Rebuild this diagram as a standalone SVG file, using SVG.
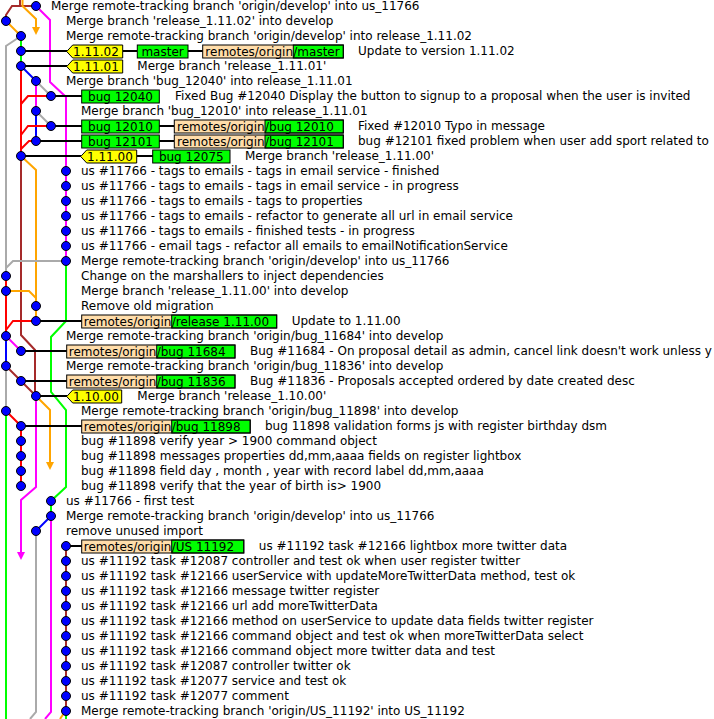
<svg xmlns="http://www.w3.org/2000/svg" width="714" height="719" viewBox="0 0 714 719">
<style>
.e{fill:none;stroke-width:2}
.br{stroke:#a52a2a}.or{stroke:#ffa500}.gy{stroke:#aaaaaa}.mg{stroke:#ff00ff}
.gn{stroke:#00ff00}.rd{stroke:#ff0000}.bl{stroke:#0000ff}.bk{stroke:#000000}
.n{fill:#0000ff;stroke:#000;stroke-width:1}
.tag{fill:#ffff00;stroke:#000;stroke-width:1}
.head{fill:#00ff00;stroke:#000;stroke-width:1}
.rem{fill:#ffddaa}
.box{fill:none;stroke:#000;stroke-width:1}
text{font-family:"DejaVu Sans","Liberation Sans",sans-serif;font-size:12px;fill:#000}
.c{text-anchor:middle}
.r{text-anchor:end}
</style>
<defs>
<marker id="arrO" markerWidth="8" markerHeight="8" refX="0" refY="4" orient="auto" markerUnits="userSpaceOnUse"><path d="M0,0 L8,4 L0,8 Z" fill="#ffa500"/></marker>
<marker id="arrM" markerWidth="8" markerHeight="8" refX="0" refY="4" orient="auto" markerUnits="userSpaceOnUse"><path d="M0,0 L8,4 L0,8 Z" fill="#ff00ff"/></marker>
</defs>

<g id="connectors">
  <!-- lane lines -->
  <path class="e br" d="M20,0 V6"/>
  <path class="e br" d="M36,6 H12 L6,15 V21"/>
  <path class="e or" d="M22.5,0 V6 L36,19 V27" marker-end="url(#arrO)"/>
  <path class="e or" d="M6,21 L21,36"/>
  <path class="e gy" d="M21,36 L6,46 V276"/>
  <path class="e gn" d="M21,36 V66"/>
  <path class="e mg" d="M36,6 L50,20 V82 L66,97 V261"/>
  <path class="e bl" d="M21,66 L36,81"/>
  <path class="e rd" d="M21,66 V156"/>
  <path class="e gy" d="M36,81 L51,96"/>
  <path class="e mg" d="M36,81 V111"/>
  <path class="e rd" d="M51,96 H28 L21,104"/>
  <path class="e gy" d="M36,111 L51,126"/>
  <path class="e bl" d="M36,111 V141"/>
  <path class="e rd" d="M51,126 H28 L21,135"/>
  <path class="e rd" d="M36,141 H29 L21,149"/>
  <path class="e br" d="M21,156 V335 L35,350 V396"/>
  <path class="e or" d="M21,156 L36,170 V321"/>
  <path class="e gy" d="M66,261 H13 L6,268"/>
  <path class="e gn" d="M66,261 V321 L51,337 V392 L66,410 V487 L51,501 V516"/>
  <path class="e rd" d="M6,276 V336"/>
  <path class="e or" d="M6,291 H29 L36,298"/>
  <path class="e rd" d="M36,321 H13 L6,330"/>
  <path class="e mg" d="M6,336 L21,351"/>
  <path class="e bl" d="M6,336 V366"/>
  <path class="e gy" d="M6,366 V411"/>
  <path class="e br" d="M6,366 L21,381"/>
  <path class="e br" d="M21,381 L36,396"/>
  <path class="e mg" d="M36,396 V487 L21,500 V552" marker-end="url(#arrM)"/>
  <path class="e or" d="M36,396 L50,410 V462" marker-end="url(#arrO)"/>
  <path class="e gn" d="M6,411 V719"/>
  <path class="e rd" d="M6,411 L21,426 V486"/>
  <path class="e bl" d="M51,516 L36,531"/>
  <path class="e mg" d="M51,516 V712 L45,719"/>
  <path class="e gy" d="M36,531 V712 L30,719"/>
  <path class="e br" d="M66,546 V711"/>
  <path class="e or" d="M64,713 L60,719"/>
  <path class="e gn" d="M66,714 V719"/>
  <!-- ref connectors -->
  <path class="e bk" d="M21,51 H67 M123,51 H137 M188,51 H203"/>
  <path class="e bk" d="M21,66 H67"/>
  <path class="e bk" d="M51,96 H82"/>
  <path class="e bk" d="M51,126 H82 M159,126 H174"/>
  <path class="e bk" d="M36,141 H82 M159,141 H174"/>
  <path class="e bk" d="M21,156 H81 M137,156 H153"/>
  <path class="e bk" d="M36,321 H82"/>
  <path class="e bk" d="M21,351 H67"/>
  <path class="e bk" d="M21,381 H67"/>
  <path class="e bk" d="M36,396 H67"/>
  <path class="e bk" d="M21,426 H82"/>
  <path class="e bk" d="M66,546 H82"/>
</g>

<g id="c0"><circle class="n" cx="36" cy="6" r="4.5"/><text x="51" y="10">Merge remote-tracking branch 'origin/develop' into us_11766</text></g>
<g id="c1"><circle class="n" cx="6" cy="21" r="4.5"/><text x="66" y="25">Merge branch 'release_1.11.02' into develop</text></g>
<g id="c2"><circle class="n" cx="21" cy="36" r="4.5"/><text x="66" y="40">Merge remote-tracking branch 'origin/develop' into release_1.11.02</text></g>
<g id="c3"><circle class="n" cx="21" cy="51" r="4.5"/>
  <polygon class="tag" points="66.7,51.5 72.7,45 122.7,45 122.7,58 72.7,58"/><text x="73" y="56">1.11.02</text>
  <rect class="head" x="137.3" y="45" width="50.7" height="13"/><text class="c" x="162.6" y="56">master</text>
  <rect class="rem" x="202.7" y="45" width="90.6" height="13"/><rect class="head" x="293.3" y="45" width="50" height="13" stroke="none"/><rect class="box" x="202.7" y="45" width="140.6" height="13"/>
  <text class="r" x="293" y="56">remotes/origin</text><text x="293.3" y="56">/master</text>
  <text x="358" y="55">Update to version 1.11.02</text></g>
<g id="c4"><circle class="n" cx="21" cy="66" r="4.5"/>
  <polygon class="tag" points="66.7,66.5 72.7,60 122.7,60 122.7,73 72.7,73"/><text x="73" y="71">1.11.01</text>
  <text x="137.3" y="70">Merge branch 'release_1.11.01'</text></g>
<g id="c5"><circle class="n" cx="36" cy="81" r="4.5"/><text x="66" y="85">Merge branch 'bug_12040' into release_1.11.01</text></g>
<g id="c6"><circle class="n" cx="51" cy="96" r="4.5"/>
  <rect class="head" x="81.7" y="90" width="77.6" height="13"/><text class="c" x="120.5" y="101">bug 12040</text>
  <text x="175" y="100">Fixed Bug #12040 Display the button to signup to a proposal when the user is invited</text></g>
<g id="c7"><circle class="n" cx="36" cy="111" r="4.5"/><text x="81" y="115">Merge branch 'bug_12010' into release_1.11.01</text></g>
<g id="c8"><circle class="n" cx="51" cy="126" r="4.5"/>
  <rect class="head" x="81.7" y="120" width="77.6" height="13"/><text class="c" x="120.5" y="131">bug 12010</text>
  <rect class="rem" x="174.3" y="120" width="90.7" height="13"/><rect class="head" x="265" y="120" width="78.3" height="13" stroke="none"/><rect class="box" x="174.3" y="120" width="169" height="13"/>
  <text class="r" x="264.7" y="131">remotes/origin</text><text x="265" y="131">/bug 12010</text>
  <text x="358" y="130">Fixed #12010 Typo in message</text></g>
<g id="c9"><circle class="n" cx="36" cy="141" r="4.5"/>
  <rect class="head" x="81.7" y="135" width="77.6" height="13"/><text class="c" x="120.5" y="146">bug 12101</text>
  <rect class="rem" x="174.3" y="135" width="90.7" height="13"/><rect class="head" x="265" y="135" width="78.3" height="13" stroke="none"/><rect class="box" x="174.3" y="135" width="169" height="13"/>
  <text class="r" x="264.7" y="146">remotes/origin</text><text x="265" y="146">/bug 12101</text>
  <text x="358" y="145">bug #12101 fixed problem when user add sport related to</text></g>
<g id="c10"><circle class="n" cx="21" cy="156" r="4.5"/>
  <polygon class="tag" points="80.7,156.5 86.7,150 136.7,150 136.7,163 86.7,163"/><text x="87" y="161">1.11.00</text>
  <rect class="head" x="152.7" y="150" width="77.3" height="13"/><text class="c" x="191.3" y="161">bug 12075</text>
  <text x="245" y="160">Merge branch 'release_1.11.00'</text></g>
<g id="c11"><circle class="n" cx="66" cy="171" r="4.5"/><text x="81" y="175">us #11766 - tags to emails - tags in email service - finished</text></g>
<g id="c12"><circle class="n" cx="66" cy="186" r="4.5"/><text x="81" y="190">us #11766 - tags to emails - tags in email service - in progress</text></g>
<g id="c13"><circle class="n" cx="66" cy="201" r="4.5"/><text x="81" y="205">us #11766 - tags to emails - tags to properties</text></g>
<g id="c14"><circle class="n" cx="66" cy="216" r="4.5"/><text x="81" y="220">us #11766 - tags to emails - refactor to generate all url in email service</text></g>
<g id="c15"><circle class="n" cx="66" cy="231" r="4.5"/><text x="81" y="235">us #11766 - tags to emails - finished tests - in progress</text></g>
<g id="c16"><circle class="n" cx="66" cy="246" r="4.5"/><text x="81" y="250">us #11766 - email tags - refactor all emails to emailNotificationService</text></g>
<g id="c17"><circle class="n" cx="66" cy="261" r="4.5"/><text x="81" y="265">Merge remote-tracking branch 'origin/develop' into us_11766</text></g>
<g id="c18"><circle class="n" cx="6" cy="276" r="4.5"/><text x="81" y="280">Change on the marshallers to inject dependencies</text></g>
<g id="c19"><circle class="n" cx="6" cy="291" r="4.5"/><text x="81" y="295">Merge branch 'release_1.11.00' into develop</text></g>
<g id="c20"><circle class="n" cx="36" cy="306" r="4.5"/><text x="81" y="310">Remove old migration</text></g>
<g id="c21"><circle class="n" cx="36" cy="321" r="4.5"/>
  <rect class="rem" x="81.7" y="315" width="90" height="13"/><rect class="head" x="171.7" y="315" width="105" height="13" stroke="none"/><rect class="box" x="81.7" y="315" width="195" height="13"/>
  <text class="r" x="171.4" y="326">remotes/origin</text><text x="171.7" y="326">/release 1.11.00</text>
  <text x="291.7" y="325">Update to 1.11.00</text></g>
<g id="c22"><circle class="n" cx="6" cy="336" r="4.5"/><text x="66" y="340">Merge remote-tracking branch 'origin/bug_11684' into develop</text></g>
<g id="c23"><circle class="n" cx="21" cy="351" r="4.5"/>
  <rect class="rem" x="66.7" y="345" width="90" height="13"/><rect class="head" x="156.7" y="345" width="78.3" height="13" stroke="none"/><rect class="box" x="66.7" y="345" width="168.3" height="13"/>
  <text class="r" x="156.4" y="356">remotes/origin</text><text x="156.7" y="356">/bug 11684</text>
  <text x="250" y="355">Bug #11684 - On proposal detail as admin, cancel link doesn't work unless y</text></g>
<g id="c24"><circle class="n" cx="6" cy="366" r="4.5"/><text x="66" y="370">Merge remote-tracking branch 'origin/bug_11836' into develop</text></g>
<g id="c25"><circle class="n" cx="21" cy="381" r="4.5"/>
  <rect class="rem" x="66.7" y="375" width="90" height="13"/><rect class="head" x="156.7" y="375" width="78.3" height="13" stroke="none"/><rect class="box" x="66.7" y="375" width="168.3" height="13"/>
  <text class="r" x="156.4" y="386">remotes/origin</text><text x="156.7" y="386">/bug 11836</text>
  <text x="250" y="385">Bug #11836 - Proposals accepted ordered by date created desc</text></g>
<g id="c26"><circle class="n" cx="36" cy="396" r="4.5"/>
  <polygon class="tag" points="66.7,396.5 72.7,390 121.7,390 121.7,403 72.7,403"/><text x="73" y="401">1.10.00</text>
  <text x="137.3" y="400">Merge branch 'release_1.10.00'</text></g>
<g id="c27"><circle class="n" cx="6" cy="411" r="4.5"/><text x="81" y="415">Merge remote-tracking branch 'origin/bug_11898' into develop</text></g>
<g id="c28"><circle class="n" cx="21" cy="426" r="4.5"/>
  <rect class="rem" x="81.7" y="420" width="90" height="13"/><rect class="head" x="171.7" y="420" width="78.5" height="13" stroke="none"/><rect class="box" x="81.7" y="420" width="168.5" height="13"/>
  <text class="r" x="171.4" y="431">remotes/origin</text><text x="171.7" y="431">/bug 11898</text>
  <text x="265" y="430">bug 11898 validation forms js with register birthday dsm</text></g>
<g id="c29"><circle class="n" cx="21" cy="441" r="4.5"/><text x="81" y="445">bug #11898 verify year &gt; 1900 command object</text></g>
<g id="c30"><circle class="n" cx="21" cy="456" r="4.5"/><text x="81" y="460">bug #11898 messages properties dd,mm,aaaa fields on register lightbox</text></g>
<g id="c31"><circle class="n" cx="21" cy="471" r="4.5"/><text x="81" y="475">bug #11898 field day , month , year with record label dd,mm,aaaa</text></g>
<g id="c32"><circle class="n" cx="21" cy="486" r="4.5"/><text x="81" y="490">bug #11898 verify that the year of birth is&gt; 1900</text></g>
<g id="c33"><circle class="n" cx="51" cy="501" r="4.5"/><text x="66" y="505">us #11766 - first test</text></g>
<g id="c34"><circle class="n" cx="51" cy="516" r="4.5"/><text x="66" y="520">Merge remote-tracking branch 'origin/develop' into us_11766</text></g>
<g id="c35"><circle class="n" cx="36" cy="531" r="4.5"/><text x="66" y="535">remove unused import</text></g>
<g id="c36"><circle class="n" cx="66" cy="546" r="4.5"/>
  <rect class="rem" x="81.7" y="540" width="90" height="13"/><rect class="head" x="171.7" y="540" width="72.1" height="13" stroke="none"/><rect class="box" x="81.7" y="540" width="162.1" height="13"/>
  <text class="r" x="171.4" y="551">remotes/origin</text><text x="171.7" y="551">/US 11192</text>
  <text x="258.8" y="550">us #11192 task #12166 lightbox more twitter data</text></g>
<g id="c37"><circle class="n" cx="66" cy="561" r="4.5"/><text x="81" y="565">us #11192 task #12087 controller and test ok when user register twitter</text></g>
<g id="c38"><circle class="n" cx="66" cy="576" r="4.5"/><text x="81" y="580">us #11192 task #12166 userService with updateMoreTwitterData method, test ok</text></g>
<g id="c39"><circle class="n" cx="66" cy="591" r="4.5"/><text x="81" y="595">us #11192 task #12166 message twitter register</text></g>
<g id="c40"><circle class="n" cx="66" cy="606" r="4.5"/><text x="81" y="610">us #11192 task #12166 url add moreTwitterData</text></g>
<g id="c41"><circle class="n" cx="66" cy="621" r="4.5"/><text x="81" y="625">us #11192 task #12166 method on userService to update data fields twitter register</text></g>
<g id="c42"><circle class="n" cx="66" cy="636" r="4.5"/><text x="81" y="640">us #11192 task #12166 command object and test ok when moreTwitterData select</text></g>
<g id="c43"><circle class="n" cx="66" cy="651" r="4.5"/><text x="81" y="655">us #11192 task #12166 command object more twitter data and test</text></g>
<g id="c44"><circle class="n" cx="66" cy="666" r="4.5"/><text x="81" y="670">us #11192 task #12087 controller twitter ok</text></g>
<g id="c45"><circle class="n" cx="66" cy="681" r="4.5"/><text x="81" y="685">us #11192 task #12077 service and test ok</text></g>
<g id="c46"><circle class="n" cx="66" cy="696" r="4.5"/><text x="81" y="700">us #11192 task #12077 comment</text></g>
<g id="c47"><circle class="n" cx="66" cy="711" r="4.5"/><text x="81" y="715">Merge remote-tracking branch 'origin/US_11192' into US_11192</text></g>
</svg>
